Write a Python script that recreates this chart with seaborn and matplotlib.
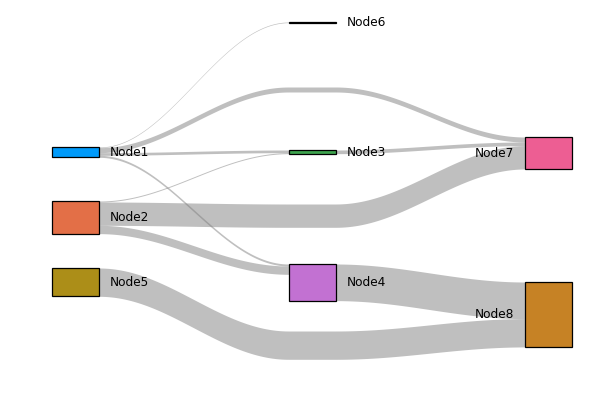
import numpy as np
import matplotlib
matplotlib.use("Agg")
import matplotlib.pyplot as plt
import seaborn as sns
from matplotlib.patches import Rectangle

# data: flows between nodes
node_names = ["Node1", "Node2", "Node3", "Node4", "Node5", "Node6", "Node7", "Node8"]
src = [1, 1, 1, 1, 2, 2, 2, 3, 4, 5]
dst = [6, 7, 3, 4, 3, 7, 4, 7, 8, 8]
weights = [0.2, 1.5, 0.8, 0.6, 0.3, 7.0, 2.5, 1.1, 11.0, 8.5]

# julia-like default palette
node_colors = ["#009AFA", "#E36F47", "#3EA44E", "#C271D2", "#AC8E18", "#00AAAE", "#ED5E93", "#C68225"]

# layout (pixel space)
layer = {1: 0, 2: 0, 5: 0, 3: 1, 4: 1, 6: 1, 7: 2, 8: 2}
node_top = {1: 147, 2: 201, 5: 268, 6: 22, 3: 150, 4: 264, 7: 137, 8: 282}
dummy_top = {(1, 7): 87, (2, 7): 204, (5, 8): 331}
SCALE = 3.33
X0, COL_STEP, NODE_W = 52, 236.5, 47


def xleft(n):
    return X0 + layer[n] * COL_STEP


def curve(xa, ya, xb, yb, num=60):
    t = np.linspace(0, 1, num)
    return xa + (xb - xa) * t, ya + (yb - ya) * (1 - np.cos(np.pi * t)) / 2


sns.set_theme(style="white")
plt.rcParams['font.family'] = ['DejaVu Sans']

fig = plt.figure(figsize=(6, 4), dpi=100)
ax = fig.add_axes([0, 0, 1, 1])
ax.set_xlim(0, 600)
ax.set_ylim(400, 0)
ax.axis("off")

edges = list(zip(src, dst, weights))
n_in = {n: 0.0 for n in layer}
n_out = {n: 0.0 for n in layer}
for s, d, w in edges:
    n_out[s] += w
    n_in[d] += w
height = {n: max(n_in[n], n_out[n]) * SCALE for n in layer}


def next_top(e):
    s, d, w = e
    return dummy_top.get((s, d), node_top[d])


def prev_top(e):
    s, d, w = e
    return dummy_top.get((s, d), node_top[s])


# offsets of each band at its source and target
out_off, in_off = {}, {}
for n in layer:
    outs = sorted([e for e in edges if e[0] == n], key=next_top)
    y = node_top[n]
    for e in outs:
        out_off[e] = y
        y += e[2] * SCALE
    ins = sorted([e for e in edges if e[1] == n], key=prev_top)
    y = node_top[n]
    for e in ins:
        in_off[e] = y
        y += e[2] * SCALE

gray = (0.5, 0.5, 0.5)
for e in edges:
    s, d, w = e
    xs = xleft(s) + NODE_W
    xt = xleft(d)
    y0, y1 = out_off[e], in_off[e]
    if (s, d) in dummy_top:
        yd = dummy_top[(s, d)]
        dl = X0 + COL_STEP
        dr = dl + NODE_W
        xa, ya = curve(xs, y0, dl, yd)
        xb, yb = np.array([dl, dr]), np.array([yd, yd])
        xc, yc = curve(dr, yd, xt, y1)
        xx = np.concatenate([xa, xb, xc])
        yy = np.concatenate([ya, yb, yc])
    else:
        xx, yy = curve(xs, y0, xt, y1)
    ax.fill_between(xx, yy, yy + w * SCALE, color=gray, alpha=0.5, lw=0, zorder=1)

for n in layer:
    ax.add_patch(Rectangle((xleft(n), node_top[n]), NODE_W, height[n],
                           facecolor=node_colors[n - 1], edgecolor="black",
                           lw=0.9, zorder=2))
    yc = node_top[n] + height[n] / 2 + 0.5
    if layer[n] < 2:
        ax.text(xleft(n) + NODE_W + 11, yc, node_names[n - 1], ha="left", va="center",
                fontsize=8.7, color="black", zorder=3)
    else:
        ax.text(xleft(n) - 11, yc, node_names[n - 1], ha="right", va="center",
                fontsize=8.7, color="black", zorder=3)

fig.savefig("out.png", dpi=100)
